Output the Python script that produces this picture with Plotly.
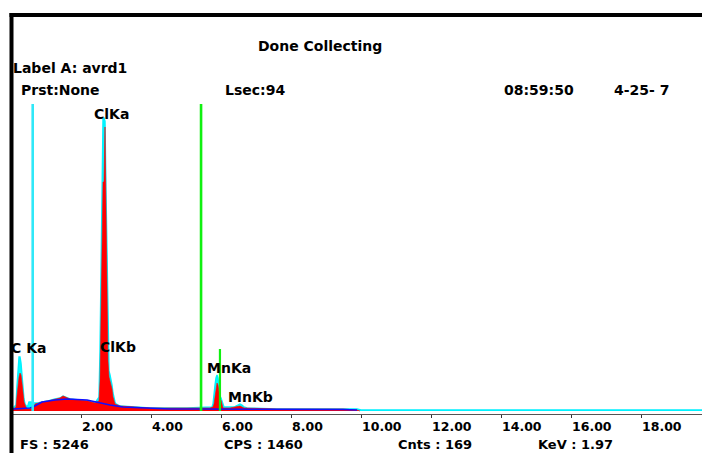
import plotly.graph_objects as go

# ---------------- data (energy in keV, intensity in counts) ----------------
FULL_SCALE = 5246

red_kev = [0.057, 0.114, 0.143, 0.171, 0.2, 0.229, 0.257, 0.286, 0.314, 0.343, 0.371, 0.4,
           0.429, 0.457, 0.543, 0.6, 0.657, 0.686, 0.771, 0.886, 1.057, 1.257, 1.4, 1.486,
           1.543, 1.686, 1.971, 2.2, 2.4, 2.514, 2.543, 2.571, 2.6, 2.629, 2.657, 2.686,
           2.714, 2.743, 2.771, 2.8, 2.829, 2.857, 2.886, 2.914, 2.943, 2.971, 3.114, 3.543,
           3.971, 5.029, 5.686, 5.771, 5.8, 5.829, 5.857, 5.886, 5.914, 5.943, 5.971, 6.0,
           6.029, 6.057, 6.257, 6.429, 6.486, 6.543, 6.6, 6.657, 7.6, 9.486, 9.886, 9.971]
red_counts = [34, 51, 68, 256, 479, 581, 649, 615, 479, 273, 154, 103,
              68, 34, 34, 51, 68, 120, 137, 154, 171, 205, 222, 256,
              239, 205, 188, 171, 137, 171, 513, 1897, 2564, 3914, 3914, 4854,
              3469, 1897, 855, 581, 513, 479, 376, 239, 154, 120, 85, 68,
              51, 51, 51, 68, 120, 239, 376, 479, 444, 273, 205, 188,
              103, 51, 51, 68, 85, 85, 68, 51, 34, 34, 17, 0]

cyan_kev = [0.057, 0.143, 0.171, 0.2, 0.229, 0.257, 0.286, 0.314, 0.343, 0.371, 0.4, 0.429,
            0.457, 0.486, 0.514, 0.571, 0.629, 0.686, 0.771, 0.886, 1.057, 1.257, 1.4, 1.486,
            1.543, 1.686, 1.971, 2.2, 2.4, 2.514, 2.543, 2.571, 2.6, 2.629, 2.657, 2.686,
            2.714, 2.743, 2.771, 2.8, 2.829, 2.857, 2.886, 2.914, 2.943, 2.971, 3.0, 3.114,
            3.543, 3.971, 5.029, 5.743, 5.771, 5.8, 5.829, 5.857, 5.886, 5.914, 5.943, 5.971,
            6.0, 6.029, 6.057, 6.086, 6.371, 6.429, 6.486, 6.543, 6.6, 6.657, 6.743, 7.6,
            9.886, 10.0, 19.743]
cyan_counts = [51, 103, 427, 769, 923, 923, 820, 615, 376, 205, 120, 85,
               68, 103, 154, 154, 137, 137, 137, 154, 171, 205, 222, 256,
               239, 205, 188, 171, 137, 239, 1025, 2222, 3760, 5007, 5007, 4956,
               3760, 2393, 1196, 684, 615, 547, 444, 308, 205, 154, 120, 85,
               68, 51, 51, 68, 120, 239, 444, 564, 615, 564, 410, 256,
               222, 154, 103, 68, 68, 85, 103, 120, 103, 68, 51, 34,
               34, 17, 17]

bkg_kev = [0.057, 0.543, 0.629, 0.886, 1.257, 1.6, 2.171, 2.543, 2.829, 3.2, 4.543, 5.4,
           6.914, 7.6, 9.486, 9.886]
bkg_counts = [34, 51, 68, 154, 188, 205, 188, 137, 103, 68, 34, 34,
              34, 26, 26, 17]

marker_cyan_kev = 0.62
marker_green_kev = 5.43
marker_mnka_kev = 5.97
marker_mnka_counts = 1060

peak_names = ["ClKa", "ClKb", "MnKa", "MnKb"]
peak_label_kev = [2.87, 3.06, 6.24, 6.83]
peak_label_counts = [5076, 1094, 735, 239]
cka_name = "C Ka"
cka_label_kev = 1.066
cka_label_counts = 1077

tick_vals = [2, 4, 6, 8, 10, 12, 14, 16, 18]
tick_text = ["2.00", "4.00", "6.00", "8.00", "10.00", "12.00", "14.00", "16.00", "18.00"]

status_title = "Done Collecting"
label_text = "Label A: avrd1"
header_texts = ["Prst:None", "Lsec:94", "08:59:50", "4-25- 7"]
footer_texts = ["FS : 5246", "CPS : 1460", "Cnts : 169", "KeV : 1.97"]

# ---------------- layout helpers ----------------
W, H = 702, 453
def px(x):
    return x / W
def py(y):
    return 1 - y / H

FONT = dict(family="DejaVu Sans", size=14, color="black", weight="bold")
FOOT_FONT = dict(family="DejaVu Sans", size=13, color="black", weight="bold")

fig = go.Figure()

fig.add_trace(go.Scatter(x=cyan_kev, y=cyan_counts, mode="lines", fill="tozeroy",
                         fillcolor="#00ffff", line=dict(color="#00f0ff", width=1.4),
                         hoverinfo="skip"))
fig.add_trace(go.Scatter(x=red_kev, y=red_counts, mode="lines", fill="tozeroy",
                         fillcolor="#ff0000", line=dict(color="#ff0000", width=0.6),
                         hoverinfo="skip"))
fig.add_trace(go.Scatter(x=bkg_kev, y=bkg_counts, mode="lines",
                         line=dict(color="#1010ff", width=1.5), hoverinfo="skip"))
fig.add_trace(go.Scatter(x=[marker_cyan_kev, marker_cyan_kev], y=[0, FULL_SCALE], mode="lines",
                         line=dict(color="#30e8f8", width=2.6), hoverinfo="skip"))
fig.add_trace(go.Scatter(x=[marker_green_kev, marker_green_kev], y=[0, FULL_SCALE], mode="lines",
                         line=dict(color="#10f010", width=2.6), hoverinfo="skip"))
fig.add_trace(go.Scatter(x=[marker_mnka_kev, marker_mnka_kev], y=[0, marker_mnka_counts],
                         mode="lines", line=dict(color="#10f010", width=2.2), hoverinfo="skip"))

annotations = []
for name, xk, yc in zip(peak_names, peak_label_kev, peak_label_counts):
    annotations.append(dict(x=xk, y=yc, xref="x", yref="y", text=name, showarrow=False,
                            xanchor="center", yanchor="middle", font=FONT))
annotations.append(dict(x=cka_label_kev, y=cka_label_counts, xref="x", yref="y", text=cka_name,
                        showarrow=False, xanchor="right", yanchor="middle", font=FONT))

annotations.append(dict(x=px(256), y=py(46), xref="paper", yref="paper", text=status_title,
                        showarrow=False, xanchor="left", yanchor="middle", font=FONT))
annotations.append(dict(x=px(11), y=py(68), xref="paper", yref="paper", text=label_text,
                        showarrow=False, xanchor="left", yanchor="middle", font=FONT))
for t, x in zip(header_texts, [19, 223, 502, 612]):
    annotations.append(dict(x=px(x), y=py(90), xref="paper", yref="paper", text=t,
                            showarrow=False, xanchor="left", yanchor="middle", font=FONT))
for t, x in zip(footer_texts, [19, 223, 397, 537]):
    annotations.append(dict(x=px(x), y=py(444), xref="paper", yref="paper", text=t,
                            showarrow=False, xanchor="left", yanchor="middle", font=FOOT_FONT,
                            borderpad=0))

shapes = [
    dict(type="rect", xref="paper", yref="paper", x0=px(9.5), x1=1.0, y0=py(17), y1=py(13),
         fillcolor="black", line=dict(width=0), layer="above"),
    dict(type="rect", xref="paper", yref="paper", x0=px(9.5), x1=px(13.5), y0=0, y1=py(13),
         fillcolor="black", line=dict(width=0), layer="above"),
]

KEV_PER_PX = 1 / 35.0
CNT_PER_PX = 17.09
fig.update_layout(
    width=W, height=H, margin=dict(l=0, r=0, t=0, b=0),
    paper_bgcolor="white", plot_bgcolor="white", showlegend=False,
    annotations=annotations, shapes=shapes,
    xaxis=dict(domain=[px(13), 1.0], range=[(13 - 11) * KEV_PER_PX, (W - 11) * KEV_PER_PX],
               showgrid=False, zeroline=False, showline=True, linecolor="#555555", linewidth=1,
               ticks="outside", ticklen=3, tickcolor="#333333", tickwidth=1,
               tickvals=tick_vals, ticktext=tick_text, ticklabelposition="outside right",
               ticklabelstandoff=1,
               tickfont=dict(family="DejaVu Sans", size=12.5, color="black", weight="bold"),
               fixedrange=True),
    yaxis=dict(domain=[py(414), py(16)], range=[(411 - 414) * CNT_PER_PX, (411 - 16) * CNT_PER_PX],
               visible=False, fixedrange=True),
)

fig.write_html("out.html")
